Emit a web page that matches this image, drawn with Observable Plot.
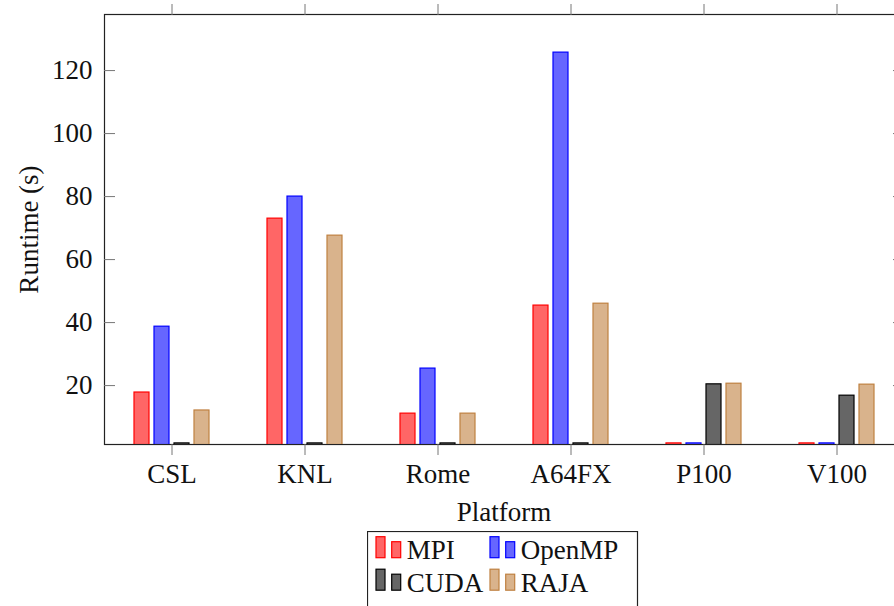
<!DOCTYPE html>
<html>
<head>
<meta charset="utf-8">
<script src="https://cdn.jsdelivr.net/npm/d3@7"></script>
<script src="https://cdn.jsdelivr.net/npm/@observablehq/plot@0.6"></script>
<style>
  html, body { margin: 0; padding: 0; background: white; }
  #wrap { position: relative; width: 894px; height: 606px; overflow: hidden; }
  #wrap > svg { position: absolute; left: 0; top: 0; }
  #legend { left: 367px !important; top: 531px !important; }
</style>
</head>
<body>
<div id="wrap"></div>
<script>
const platforms = ["CSL", "KNL", "Rome", "A64FX", "P100", "V100"];
const series = ["MPI", "OpenMP", "CUDA", "RAJA"];
const mpi    = [17.8, 73.0, 11.1, 45.4, 0, 0];
const openmp = [38.7, 80.0, 25.4, 125.7, 0, 0];
const cuda   = [0, 0, 0, 0, 20.4, 16.8];
const raja   = [12.1, 67.6, 11.1, 46.0, 20.6, 20.3];
const colors = ["#ff0000", "#0000ff", "#000000", "#bf8040"];
const yTicks = [20, 40, 60, 80, 100, 120];
const yLabel = "Runtime (s)";
const xLabel = "Platform";

const values = [mpi, openmp, cuda, raja];
const data = platforms.flatMap((p, i) =>
  series.map((s, j) => ({platform: p, series: s, value: values[j][i]})));

const YMIN = 1.3, YMAX = 137.8;
const FONT = "'Liberation Serif', 'DejaVu Serif', serif";
const FS = 27;

const common = {
  width: 894,
  height: 530,
  marginTop: 14,
  marginBottom: 86,
  marginLeft: 104,
  marginRight: -9,
};

// Base layer: frame, axes, labels
const base = Plot.plot({
  ...common,
  style: {fontFamily: FONT, fontSize: FS + "px", overflow: "hidden", background: "white", color: "#111"},
  x: {type: "band", domain: platforms, padding: 0, label: null},
  y: {domain: [YMIN, YMAX], label: null},
  marks: [
    Plot.frame({stroke: "#222", strokeWidth: 1.2}),
    Plot.axisY(yTicks, {anchor: "left", tickSize: -11, tickPadding: 23, stroke: "#777", label: null, fontSize: FS}),
    Plot.axisY(yTicks, {anchor: "right", tickSize: -11, tickFormat: () => "", stroke: "#777", label: null}),
    Plot.axisX({anchor: "bottom", tickSize: 11, tickPadding: 8, stroke: "#777", label: null, fontSize: FS}),
    Plot.axisX({anchor: "top", tickSize: 11, tickFormat: () => "", stroke: "#777", label: null}),
    Plot.text([yLabel], {frameAnchor: "left", rotate: -90, dx: -75, text: d => d, fontSize: FS, lineAnchor: "middle", textAnchor: "middle"}),
    Plot.text([xLabel], {frameAnchor: "bottom", dy: 68, text: d => d, fontSize: FS, lineAnchor: "middle", textAnchor: "middle"})
  ]
});

// Bar layer: grouped bars via facets, drawn over the axis lines
const bars = Plot.plot({
  ...common,
  style: {overflow: "hidden", background: "transparent"},
  fx: {domain: platforms, paddingInner: 0.377, paddingOuter: 0.1885, axis: null},
  x: {domain: series, paddingInner: 0.25, paddingOuter: 0.125, axis: null},
  y: {domain: [YMIN, YMAX], axis: null},
  color: {domain: series, range: colors},
  marks: [
    Plot.barY(data, {
      fx: "platform", x: "series",
      y1: 0, y2: d => Math.max(d.value, YMIN + 0.35),
      fill: "series", fillOpacity: 0.6, stroke: "series", strokeWidth: 1.2,
      clip: true
    })
  ]
});

const wrap = document.getElementById("wrap");
wrap.appendChild(base);
wrap.appendChild(bars);

// Legend (inline SVG placed below the chart)
const leg = d3.select("#wrap").append("svg")
  .attr("id", "legend")
  .attr("width", 272).attr("height", 75)
  .style("font-family", FONT).style("font-size", FS + "px");
leg.append("rect").attr("x", 0.5).attr("y", 0.5).attr("width", 270).attr("height", 110)
  .attr("fill", "white").attr("stroke", "#222").attr("stroke-width", 1.2);
series.forEach((s, i) => {
  const col = i % 2, row = Math.floor(i / 2);
  const g = leg.append("g").attr("transform", `translate(${9 + col * 114},${5.7 + row * 32.5})`);
  g.append("rect").attr("x", 0).attr("y", 0).attr("width", 9).attr("height", 21)
    .attr("fill", colors[i]).attr("fill-opacity", 0.6).attr("stroke", colors[i]).attr("stroke-width", 1.2);
  g.append("rect").attr("x", 15.7).attr("y", 5).attr("width", 9).attr("height", 16)
    .attr("fill", colors[i]).attr("fill-opacity", 0.6).attr("stroke", colors[i]).attr("stroke-width", 1.2);
  g.append("text").attr("x", 30.7).attr("y", 22.3).attr("fill", "#111").text(s);
});
</script>
</body>
</html>
